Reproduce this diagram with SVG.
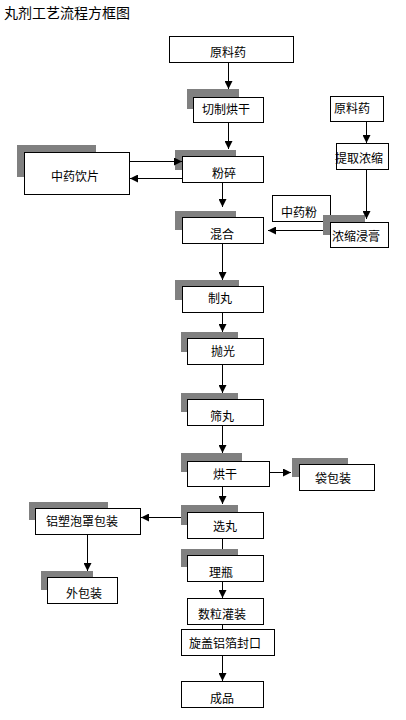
<svg xmlns="http://www.w3.org/2000/svg" width="406" height="720" viewBox="0 0 406 720">
<style>
.box{fill:#fff;stroke:#000;stroke-width:1}
.sh{fill:#808080}
.t{font-family:"Noto Sans CJK SC","Noto Sans",sans-serif;font-size:12px;fill:#000;text-anchor:middle;dominant-baseline:central}
.title{font-family:"Noto Sans CJK SC","Noto Sans",sans-serif;font-size:14px;fill:#000;dominant-baseline:central}
.c{stroke:#000;stroke-width:1;fill:none}
.a{marker-end:url(#ah)}
</style>
<defs>
<marker id="ah" markerUnits="userSpaceOnUse" markerWidth="8" markerHeight="8" refX="8" refY="4" orient="auto">
<path d="M0,0 L8,4 L0,8 z" fill="#000"/>
</marker>
</defs>
<rect width="406" height="720" fill="#fff"/>
<text class="title" x="4" y="12">丸剂工艺流程方框图</text>

<g id="n-yuanliaoyao1"><rect class="box" x="169.5" y="36.5" width="124" height="26"/><text class="t" x="228" y="51">原料药</text></g>
<g id="n-qiezhi"><rect class="sh" x="187" y="89" width="52" height="20"/><rect class="box" x="193.5" y="97.5" width="70" height="25"/><text class="t" x="226" y="108">切制烘干</text></g>
<g id="n-yuanliaoyao2"><rect class="box" x="330.5" y="96.5" width="53" height="25"/><text class="t" x="352" y="107">原料药</text></g>
<g id="n-yinpian"><rect class="sh" x="17" y="145" width="79" height="32"/><rect class="box" x="24.5" y="152.5" width="105" height="42"/><text class="t" x="75" y="175">中药饮片</text></g>
<g id="n-fensui"><rect class="sh" x="175" y="150" width="61" height="20"/><rect class="box" x="182.5" y="156.5" width="81" height="26"/><text class="t" x="224" y="172">粉碎</text></g>
<g id="n-tiqu"><rect class="box" x="336.5" y="143.5" width="52" height="26"/><text class="t" x="359" y="157">提取浓缩</text></g>
<g id="n-yaofen"><rect class="box" x="272.5" y="195.5" width="58" height="26"/><text class="t" x="299" y="211">中药粉</text></g>
<g id="n-jingao"><rect class="sh" x="323" y="215" width="42" height="20"/><rect class="box" x="330.5" y="222.5" width="58" height="25"/><text class="t" x="356" y="235">浓缩浸膏</text></g>
<g id="n-hunhe"><rect class="sh" x="175" y="211" width="61" height="19"/><rect class="box" x="182.5" y="217.5" width="81" height="26"/><text class="t" x="222" y="233">混合</text></g>
<g id="n-zhiwan"><rect class="sh" x="175" y="280" width="64" height="20"/><rect class="box" x="182.5" y="286.5" width="81" height="26"/><text class="t" x="220" y="297">制丸</text></g>
<g id="n-paoguang"><rect class="sh" x="181" y="332" width="57" height="20"/><rect class="box" x="187.5" y="338.5" width="76" height="26"/><text class="t" x="223" y="350">抛光</text></g>
<g id="n-shaiwan"><rect class="sh" x="181" y="393" width="57" height="19"/><rect class="box" x="187.5" y="399.5" width="76" height="26"/><text class="t" x="222" y="415">筛丸</text></g>
<g id="n-honggan"><rect class="sh" x="181" y="453" width="61" height="19"/><rect class="box" x="187.5" y="461.5" width="82" height="25"/><text class="t" x="225" y="473">烘干</text></g>
<g id="n-daibaozhuang"><rect class="sh" x="292" y="458" width="56" height="19"/><rect class="box" x="299.5" y="464.5" width="75" height="26"/><text class="t" x="333" y="477">袋包装</text></g>
<g id="n-xuanwan"><rect class="sh" x="181" y="505" width="57" height="20"/><rect class="box" x="187.5" y="512.5" width="76" height="26"/><text class="t" x="225" y="525">选丸</text></g>
<g id="n-lvsu"><rect class="sh" x="29" y="502" width="79" height="18"/><rect class="box" x="35.5" y="508.5" width="105" height="26"/><text class="t" x="82" y="520">铝塑泡罩包装</text></g>
<g id="n-waibaozhuang"><rect class="sh" x="41" y="571" width="52" height="19"/><rect class="box" x="47.5" y="577.5" width="70" height="26"/><text class="t" x="84" y="592">外包装</text></g>
<g id="n-liping"><rect class="sh" x="181" y="549" width="57" height="18"/><rect class="box" x="187.5" y="555.5" width="76" height="26"/><text class="t" x="221" y="571">理瓶</text></g>
<g id="n-shuli"><rect class="box" x="187.5" y="598.5" width="76" height="26"/><text class="t" x="222" y="613">数粒灌装</text></g>
<g id="n-xuangai"><rect class="box" x="181.5" y="629.5" width="93" height="26"/><text class="t" x="225" y="642">旋盖铝箔封口</text></g>
<g id="n-chengpin"><rect class="box" x="181.5" y="681.5" width="82" height="26"/><text class="t" x="222" y="697">成品</text></g>

<g id="connectors">
<line class="c a" x1="228.5" y1="63" x2="228.5" y2="89"/>
<line class="c a" x1="228.5" y1="123" x2="228.5" y2="149"/>
<line class="c a" x1="130" y1="161.5" x2="182" y2="161.5"/>
<line class="c a" x1="182" y1="178.5" x2="130" y2="178.5"/>
<line class="c a" x1="222.5" y1="183" x2="222.5" y2="207"/>
<line class="c a" x1="366.5" y1="122" x2="366.5" y2="143"/>
<line class="c a" x1="366.5" y1="170" x2="366.5" y2="219"/>
<line class="c a" x1="323" y1="230.5" x2="268" y2="230.5"/>
<line class="c a" x1="222.5" y1="244" x2="222.5" y2="280"/>
<line class="c a" x1="222.5" y1="313" x2="222.5" y2="332"/>
<line class="c a" x1="222.5" y1="365" x2="222.5" y2="393"/>
<line class="c a" x1="222.5" y1="426" x2="222.5" y2="453"/>
<line class="c a" x1="270" y1="472.5" x2="291" y2="472.5"/>
<line class="c a" x1="222.5" y1="487" x2="222.5" y2="504"/>
<line class="c a" x1="181" y1="517.5" x2="141" y2="517.5"/>
<line class="c a" x1="87.5" y1="535" x2="87.5" y2="571"/>
<line class="c" x1="222.5" y1="539" x2="222.5" y2="549"/>
<line class="c a" x1="222.5" y1="582" x2="222.5" y2="598"/>
<line class="c" x1="222.5" y1="625" x2="222.5" y2="629"/>
<line class="c a" x1="222.5" y1="656" x2="222.5" y2="681"/>
</g>
</svg>
